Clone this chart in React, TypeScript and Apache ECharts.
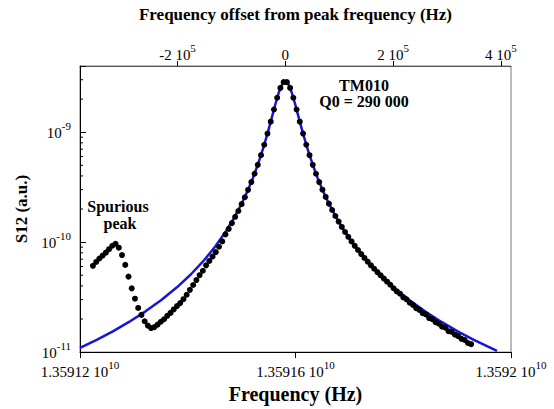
import React, { useEffect, useRef } from "react";
import * as echarts from "echarts";

const FONT = '"Liberation Serif", "Times New Roman", serif';

// Axes
const PEAK_FREQ_HZ = 13591581000;
const FREQ_MIN = 13591200000;
const FREQ_MAX = 13592000000;
const FREQ_INTERVAL = 400000;
const OFFSET_TICKS = [-200000, 0, 200000, 400000];
const S12_MIN = 1e-11;
const S12_MAX = 4e-9;
const S12_MINOR_TICKS = [
  2e-11, 3e-11, 4e-11, 5e-11, 6e-11, 7e-11, 8e-11, 9e-11,
  2e-10, 3e-10, 4e-10, 5e-10, 6e-10, 7e-10, 8e-10, 9e-10,
  2e-9, 3e-9,
];

// Fitted resonance curve (blue), offsets from peak in kHz
const fitOffsetsKHz = [
  -381, -350, -320, -290, -260, -230, -200, -175, -150, -130, -110, -95, -80, -70, -60, -50, -40, -32, -25, -18, -12, -6,
  0, 6, 12, 18, 25, 32, 40, 50, 60, 70, 80, 95, 110, 130, 150, 175, 200, 230, 260, 290, 320, 350, 393,
];
const fitValues = [
  1.093e-11, 1.294e-11, 1.546e-11, 1.881e-11, 2.336e-11, 2.979e-11, 3.926e-11, 5.107e-11, 6.907e-11, 9.124e-11,
  1.259e-10, 1.663e-10, 2.291e-10, 2.922e-10, 3.837e-10, 5.222e-10, 7.408e-10, 1.012e-9, 1.356e-9, 1.824e-9,
  2.297e-9, 2.722e-9, 2.9e-9, 2.722e-9, 2.297e-9, 1.824e-9, 1.356e-9, 1.012e-9, 7.408e-10, 5.222e-10, 3.837e-10,
  2.922e-10, 2.291e-10, 1.663e-10, 1.259e-10, 9.124e-11, 6.907e-11, 5.107e-11, 3.926e-11, 2.979e-11, 2.336e-11,
  1.881e-11, 1.546e-11, 1.294e-11, 1.027e-11,
];

// Measured points (black) - spurious peak region
const spuriousOffsetsKHz = [
  -357, -351, -345, -339, -333, -327, -321, -315, -309, -303, -297, -291, -285, -279, -273, -267, -261, -255, -249,
  -243, -237, -231, -225, -219, -213, -207, -201, -195, -189, -183, -177, -171, -165, -159, -153, -147, -141, -135,
  -129, -123, -117,
];
const spuriousValues = [
  6.09e-11, 6.61e-11, 7.1e-11, 7.55e-11, 8.03e-11, 8.63e-11, 9.27e-11, 9.66e-11, 8.9e-11, 7.63e-11, 6.21e-11,
  4.86e-11, 3.8e-11, 3.06e-11, 2.52e-11, 2.18e-11, 1.909e-11, 1.74e-11, 1.654e-11, 1.688e-11, 1.777e-11, 1.889e-11,
  1.989e-11, 2.137e-11, 2.273e-11, 2.442e-11, 2.624e-11, 2.79e-11, 3.029e-11, 3.322e-11, 3.681e-11, 4.078e-11,
  4.52e-11, 5.008e-11, 5.492e-11, 6.15e-11, 6.744e-11, 7.396e-11, 8.11e-11, 9.08e-11, 1.016e-10,
];

// Measured points (black) - TM010 resonance
const resonanceOffsetsKHz = [
  -111, -105, -99, -93, -87, -81, -75, -69, -63, -57, -51, -45, -39, -33, -27, -21, -15, -9, -3,
  3, 9, 15, 21, 27, 33, 39, 45, 51, 57, 63, 69, 75, 81, 87, 93, 99, 105, 111, 117, 123, 129, 135, 141, 147,
  153, 159, 165, 171, 177, 183, 189, 195, 201, 207, 213, 219, 225, 231, 237, 243, 249, 255, 261, 267, 273, 279,
  285, 291, 297, 303, 309, 315, 321, 327, 333, 339, 345,
];
const resonanceValues = [
  1.175e-10, 1.32e-10, 1.49e-10, 1.7e-10, 1.92e-10, 2.22e-10, 2.56e-10, 2.99e-10, 3.52e-10, 4.19e-10, 5.05e-10,
  6.18e-10, 7.69e-10, 9.72e-10, 1.246e-9, 1.608e-9, 2.057e-9, 2.527e-9, 2.853e-9,
  2.853e-9, 2.527e-9, 2.057e-9, 1.608e-9, 1.246e-9, 9.72e-10, 7.69e-10, 6.18e-10, 5.05e-10, 4.19e-10, 3.52e-10,
  3.0e-10, 2.58e-10, 2.24e-10, 1.96e-10, 1.73e-10, 1.54e-10, 1.375e-10, 1.237e-10, 1.118e-10, 1.015e-10, 9.26e-11,
  8.48e-11, 7.79e-11, 7.18e-11, 6.64e-11, 6.16e-11, 5.73e-11, 5.34e-11, 4.99e-11, 4.66e-11, 4.37e-11, 4.1e-11,
  3.81e-11, 3.56e-11, 3.4e-11, 3.15e-11, 3.02e-11, 2.81e-11, 2.69e-11, 2.51e-11, 2.42e-11, 2.26e-11, 2.2e-11,
  2.04e-11, 1.99e-11, 1.87e-11, 1.81e-11, 1.7e-11, 1.67e-11, 1.55e-11, 1.53e-11, 1.44e-11, 1.4e-11, 1.32e-11,
  1.29e-11, 1.21e-11, 1.18e-11,
];

const toFreq = (offs: number[], vals: number[]) => offs.map((o, i) => [PEAK_FREQ_HZ + o * 1000, vals[i]]);

const supRich = () => ({
  n: { fontFamily: FONT, fontSize: 15, color: "#000", lineHeight: 16, verticalAlign: "bottom" },
  s: { fontFamily: FONT, fontSize: 11, color: "#000", lineHeight: 12, padding: [0, 0, 9, 0], verticalAlign: "bottom" },
});

export default function App() {
  const ref = useRef<HTMLDivElement>(null);
  useEffect(() => {
    if (!ref.current) return;
    const chart = echarts.init(ref.current, undefined, { renderer: "svg" });
    const dots = toFreq(spuriousOffsetsKHz, spuriousValues).concat(toFreq(resonanceOffsetsKHz, resonanceValues));
    chart.setOption({
      animation: false,
      backgroundColor: "#fff",
      textStyle: { fontFamily: FONT },
      grid: { left: 80, right: 43, top: 66, bottom: 51, show: true, borderColor: "#777", borderWidth: 1, backgroundColor: "transparent" },
      xAxis: [
        {
          type: "value",
          position: "bottom",
          min: FREQ_MIN,
          max: FREQ_MAX,
          interval: FREQ_INTERVAL,
          name: "Frequency (Hz)",
          nameLocation: "middle",
          nameGap: 31,
          nameTextStyle: { fontFamily: FONT, fontSize: 20, fontWeight: "bold", color: "#000" },
          axisLine: { show: true, onZero: false, lineStyle: { color: "#000", width: 1 } },
          axisTick: { show: true, inside: false, length: 6, lineStyle: { color: "#000" } },
          splitLine: { show: false },
          axisLabel: {
            margin: 11,
            formatter: (v: number) => `{n|${parseFloat((v / 1e10).toFixed(5))} 10}{s|10}`,
            rich: supRich(),
          },
        },
        {
          type: "value",
          position: "top",
          min: FREQ_MIN - PEAK_FREQ_HZ,
          max: FREQ_MAX - PEAK_FREQ_HZ,
          name: "Frequency offset from peak frequency (Hz)",
          nameLocation: "middle",
          nameGap: 43,
          nameTextStyle: { fontFamily: FONT, fontSize: 17, fontWeight: "bold", color: "#000" },
          axisLine: { show: true, onZero: false, lineStyle: { color: "#555", width: 1 } },
          axisTick: { show: true, inside: false, length: 5, customValues: OFFSET_TICKS, lineStyle: { color: "#000" } },
          splitLine: { show: false },
          axisLabel: {
            margin: 4,
            customValues: OFFSET_TICKS,
            formatter: (v: number) => (v === 0 ? "{n|0}" : `{n|${Math.round(v / 1e5)} 10}{s|5}`),
            rich: supRich(),
          },
        },
      ],
      yAxis: {
        type: "log",
        logBase: 10,
        min: S12_MIN,
        max: S12_MAX,
        name: "S12 (a.u.)",
        nameLocation: "middle",
        nameGap: 44,
        nameRotate: 90,
        nameTextStyle: { fontFamily: FONT, fontSize: 17, fontWeight: "bold", color: "#000" },
        axisLine: { show: true, onZero: false, lineStyle: { color: "#000", width: 1 } },
        axisTick: { show: true, inside: true, length: 6, lineStyle: { color: "#000" } },
        minorTick: { show: false },
        splitLine: { show: false },
        axisLabel: {
          margin: 9,
          formatter: (v: number) => {
            const lg = Math.log10(v);
            const e = Math.round(lg);
            if (Math.abs(lg - e) > 1e-6) return "";
            return `{n|10}{s|${e}}`;
          },
          rich: supRich(),
        },
      },
      series: [
        {
          type: "custom",
          xAxisIndex: 0,
          yAxisIndex: 0,
          silent: true,
          clip: false,
          z: 5,
          data: S12_MINOR_TICKS.map((v) => [FREQ_MIN, v]),
          renderItem: (_p: any, api: any) => {
            const pt = api.coord([api.value(0), api.value(1)]);
            return {
              type: "line",
              shape: { x1: pt[0], y1: pt[1], x2: pt[0] + 3, y2: pt[1] },
              style: { stroke: "#000", lineWidth: 1 },
            };
          },
        },
        {
          type: "line",
          xAxisIndex: 0,
          yAxisIndex: 0,
          data: toFreq(fitOffsetsKHz, fitValues),
          showSymbol: false,
          smooth: false,
          lineStyle: { color: "#1616d6", width: 2.5 },
          z: 2,
          silent: true,
        },
        {
          type: "scatter",
          xAxisIndex: 0,
          yAxisIndex: 0,
          data: dots,
          symbol: "circle",
          symbolSize: 6,
          itemStyle: { color: "#000", opacity: 1 },
          z: 3,
          silent: true,
        },
      ],
      graphic: [
        { type: "text", x: 364, y: 85, style: { text: "TM010", align: "center", verticalAlign: "middle", fontFamily: FONT, fontSize: 16, fontWeight: "bold", fill: "#000" } },
        { type: "text", x: 364, y: 101, style: { text: "Q0 = 290 000", align: "center", verticalAlign: "middle", fontFamily: FONT, fontSize: 16, fontWeight: "bold", fill: "#000" } },
        { type: "text", x: 118, y: 206, style: { text: "Spurious", align: "center", verticalAlign: "middle", fontFamily: FONT, fontSize: 16, fontWeight: "bold", fill: "#000" } },
        { type: "text", x: 120, y: 223, style: { text: "peak", align: "center", verticalAlign: "middle", fontFamily: FONT, fontSize: 16, fontWeight: "bold", fill: "#000" } },
      ],
    });
    return () => chart.dispose();
  }, []);
  return <div ref={ref} style={{ position: "fixed", left: 0, top: 0, width: 554, height: 409, background: "#fff" }} />;
}
